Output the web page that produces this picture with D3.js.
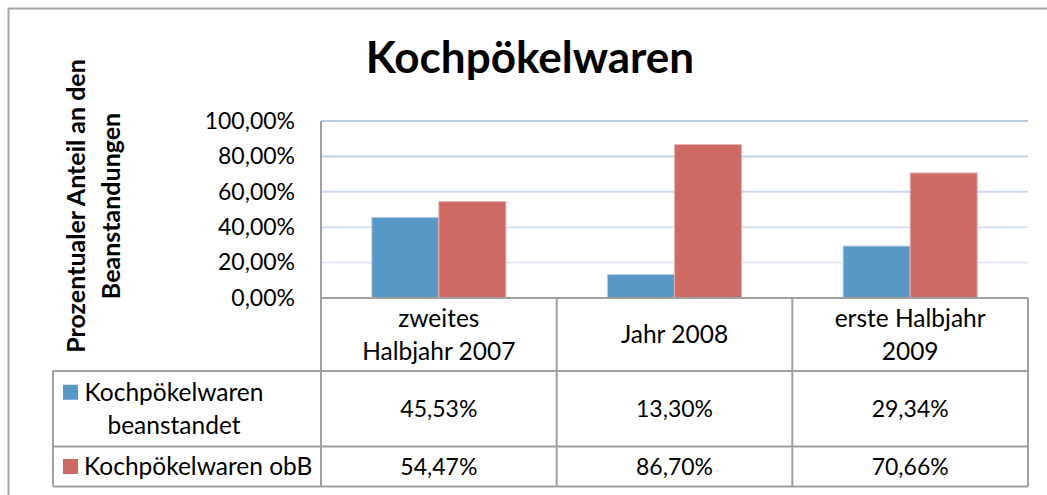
<!DOCTYPE html>
<html><head><meta charset="utf-8">
<script src="https://cdn.jsdelivr.net/npm/d3@7"></script>
<style>
html,body{margin:0;padding:0;background:#fff;}
svg{display:block;font-family:Lato, "Open Sans", sans-serif;}
</style></head>
<body>
<svg id="c" width="1047" height="495"></svg>
<script>
const title = "Kochpökelwaren";
const yTitle = ["Prozentualer Anteil an den", "Beanstandungen"];
const categories = [["zweites", "Halbjahr 2007"], ["Jahr 2008"], ["erste Halbjahr", "2009"]];
const seriesNames = [["Kochpökelwaren", "beanstandet"], ["Kochpökelwaren obB"]];
const seriesBeanstandet = [0.4553, 0.1330, 0.2934];
const seriesObB = [0.5447, 0.8670, 0.7066];
const yTicks = [0, 0.2, 0.4, 0.6, 0.8, 1.0];
const colors = ["#5997c7", "#cc6a63"];

const series = [seriesBeanstandet, seriesObB];
const loc = d3.formatLocale({decimal: ",", thousands: ".", grouping: [3], currency: ["", "€"]});
const pct = loc.format(".2%");

const svg = d3.select("#c");
const plot = {left: 321, right: 1028, top: 121, bottom: 298};
const tableLeft = 53;
const rowBottoms = [371, 446.5, 486.5];

// outer border
svg.append("path").attr("d", "M8.5,499 V8.5 H1050").attr("fill", "none")
  .attr("stroke", "#a6a6a6").attr("stroke-width", 2);

const x0 = d3.scaleBand().domain(d3.range(categories.length)).range([plot.left, plot.right]);
const x1 = d3.scaleBand().domain(d3.range(series.length)).range([0, x0.bandwidth()]).paddingOuter(0.758);
const y = d3.scaleLinear().domain([0, 1]).range([plot.bottom, plot.top]);

// gridlines
const gridColor = d3.scaleLinear().domain([0.2, 1]).range(["#e1e9f3", "#b7cbe4"]);
svg.append("g").selectAll("line").data(yTicks.filter(d => d > 0)).join("line")
  .attr("x1", plot.left).attr("x2", plot.right)
  .attr("y1", d => y(d)).attr("y2", d => y(d))
  .attr("stroke", d => gridColor(d)).attr("stroke-width", 2);

// y axis labels
const yAxis = d3.axisLeft(y).tickValues(yTicks).tickFormat(pct).tickSize(0).tickPadding(26);
const ya = svg.append("g").attr("transform", `translate(${plot.left},0)`).call(yAxis);
ya.select(".domain").remove();
ya.selectAll("text").attr("font-size", 23).attr("fill", "#000").attr("font-family", "Lato");

// bars
svg.append("g").selectAll("g").data(series).join("g")
  .attr("fill", (d, i) => colors[i])
  .each(function(vals, si) {
    d3.select(this).selectAll("rect").data(vals).join("rect")
      .attr("x", (v, ci) => x0(ci) + x1(si))
      .attr("width", x1.bandwidth())
      .attr("y", v => y(v))
      .attr("height", v => y(0) - y(v))
      .attr("stroke", si === 0 ? "#b9cde3" : "#e4b3b0").attr("stroke-width", 1);
  });

// table lines
const lineColor = "#a0a0a0";
const tl = svg.append("g").attr("stroke", lineColor).attr("stroke-width", 2);
tl.append("line").attr("x1", plot.left).attr("x2", plot.left).attr("y1", plot.top).attr("y2", rowBottoms[2]);
tl.append("line").attr("x1", plot.left).attr("x2", plot.right).attr("y1", plot.bottom).attr("y2", plot.bottom);
categories.forEach((c, i) => {
  const xr = x0(i) + x0.bandwidth();
  tl.append("line").attr("x1", xr).attr("x2", xr).attr("y1", plot.bottom).attr("y2", rowBottoms[2]);
});
rowBottoms.forEach(rb => {
  tl.append("line").attr("x1", tableLeft).attr("x2", plot.right).attr("y1", rb).attr("y2", rb);
});
tl.append("line").attr("x1", tableLeft).attr("x2", tableLeft).attr("y1", rowBottoms[0]).attr("y2", rowBottoms[2]);

// table text
const lh = 33;
const fsWord = 24.5;
const fsNum = 23;
function multiline(g, lines, cx, cy, fs) {
  const t = g.append("text").attr("text-anchor", "middle").attr("font-size", fs).attr("fill", "#000");
  lines.forEach((l, k) => {
    t.append("tspan").attr("x", cx).attr("y", cy + (k - (lines.length - 1) / 2) * lh).attr("dy", "0.35em").text(l);
  });
  return t;
}
const tg = svg.append("g");
categories.forEach((c, i) => {
  multiline(tg, c, x0(i) + x0.bandwidth() / 2, (plot.bottom + rowBottoms[0]) / 2, fsWord);
});
const rowTops = [rowBottoms[0], rowBottoms[1]];
series.forEach((vals, si) => {
  const cy = (rowTops[si] + rowBottoms[si + 1]) / 2;
  vals.forEach((v, ci) => {
    multiline(tg, [pct(v)], x0(ci) + x0.bandwidth() / 2, cy, fsNum);
  });
  const names = seriesNames[si];
  const sw = 15;
  const firstY = cy - (names.length - 1) / 2 * lh;
  tg.append("rect").attr("x", 63).attr("y", firstY - sw / 2).attr("width", sw).attr("height", sw).attr("fill", colors[si]);
  if (names.length > 1) {
    multiline(tg, names, 174, cy, fsWord);
  } else {
    tg.append("text").attr("x", 84).attr("y", cy).attr("dy", "0.35em").attr("font-size", fsWord).text(names[0]);
  }
});

// title
svg.append("text").attr("x", 530).attr("y", 58).attr("dy", "0.35em").attr("text-anchor", "middle")
  .attr("font-size", 44).attr("font-weight", "bold").text(title);

// y title
yTitle.forEach((l, k) => {
  svg.append("text").attr("transform", `translate(${76 + k * 35},206) rotate(-90)`)
    .attr("dy", "0.35em").attr("text-anchor", "middle").attr("font-weight", "bold").attr("font-size", 25).text(l);
});
</script>
</body></html>
